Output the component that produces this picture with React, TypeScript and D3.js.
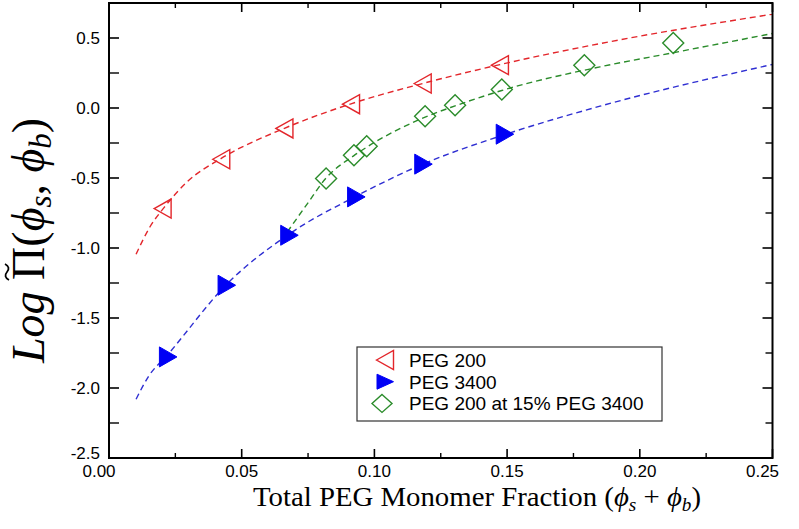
import React from 'react';
import * as d3 from 'd3';

// ---- axis ticks ----
const xTicks = [0, 0.05, 0.1, 0.15, 0.2, 0.25];
const xTickLabels = ['0.00', '0.05', '0.10', '0.15', '0.20', '0.25'];
const xMinorTicks = [0.025, 0.075, 0.125, 0.175, 0.225];
const yTicks = [-2.5, -2, -1.5, -1, -0.5, 0, 0.5];
const yTickLabels = ['-2.5', '-2.0', '-1.5', '-1.0', '-0.5', '0.0', '0.5'];
const yMinorTicks = [-2.25, -1.75, -1.25, -0.75, -0.25, 0.25];

// ---- measured points ----
const peg200X = [0.0202, 0.0423, 0.0661, 0.0912, 0.1182, 0.1473];
const peg200Y = [-0.718, -0.366, -0.146, 0.027, 0.175, 0.306];
const peg3400X = [0.0222, 0.0443, 0.0679, 0.0931, 0.1184, 0.1491];
const peg3400Y = [-1.778, -1.266, -0.909, -0.635, -0.401, -0.187];
const mixX = [0.0818, 0.0923, 0.0971, 0.1191, 0.1304, 0.148, 0.1791, 0.2126];
const mixY = [-0.504, -0.337, -0.273, -0.059, 0.02, 0.132, 0.306, 0.465];

// ---- fitted dashed curves ----
const fit200X = [0.0102, 0.0154, 0.0208, 0.0293, 0.0423, 0.0661, 0.0912, 0.1182, 0.1473, 0.185, 0.25];
const fit200Y = [-1.045, -0.85, -0.71, -0.53, -0.36, -0.145, 0.03, 0.175, 0.31, 0.46, 0.67];
const fit3400X = [0.0102, 0.0148, 0.0222, 0.0443, 0.0679, 0.0931, 0.1184, 0.1491, 0.185, 0.25];
const fit3400Y = [-2.08, -1.92, -1.76, -1.26, -0.9, -0.63, -0.4, -0.19, 0.013, 0.311];
const fitMixX = [0.0672, 0.0745, 0.0818, 0.0923, 0.0971, 0.1191, 0.1304, 0.148, 0.185, 0.2126, 0.25];
const fitMixY = [-0.885, -0.69, -0.5, -0.34, -0.28, -0.065, 0.015, 0.125, 0.294, 0.395, 0.532];

const legendLabels = ['PEG 200', 'PEG 3400', 'PEG 200 at 15% PEG 3400'];

const RED = '#e3262b';
const BLUE_M = '#0000f5';
const BLUE_L = '#2f2fd2';
const GREEN = '#2b8c2b';

const x = d3.scaleLinear().domain([0, 0.25]).range([109, 772.5]);
const y = d3.scaleLinear().domain([-2.5, 0.75]).range([458, 3]);

const line = d3
  .line<[number, number]>()
  .x((d) => x(d[0]))
  .y((d) => y(d[1]))
  .curve(d3.curveMonotoneX);

const zip = (a: number[], b: number[]) => a.map((v, i) => [v, b[i]] as [number, number]);

const triLeft = 'M-8.5,0L8.5,-9.5L8.5,9.5Z';
const triRight = 'M9,0L-8.5,-10L-8.5,10Z';
const diamond = 'M0,-10.5L10.5,0L0,10.5L-10.5,0Z';

export default function App() {
  const L = 109, R = 772.5, T = 3, B = 458;
  const sansFont = "'Liberation Sans', Arial, sans-serif";
  const serifFont = "'Liberation Serif', 'DejaVu Serif', serif";
  return (
    <svg
      width={799}
      height={529}
      style={{ position: 'fixed', left: 0, top: 0, background: '#fff' }}
    >
      <rect x={0} y={0} width={799} height={529} fill="#fff" />
      {/* curves */}
      <path d={line(zip(fit200X, fit200Y)) || ''} fill="none" stroke={RED} strokeWidth={1.4} strokeDasharray="6,4" />
      <path d={line(zip(fit3400X, fit3400Y)) || ''} fill="none" stroke={BLUE_L} strokeWidth={1.4} strokeDasharray="6,4" />
      <path d={line(zip(fitMixX, fitMixY)) || ''} fill="none" stroke={GREEN} strokeWidth={1.4} strokeDasharray="6,4" />

      {/* markers */}
      {peg200X.map((v, i) => (
        <path key={'r' + i} d={triLeft} transform={`translate(${x(v)},${y(peg200Y[i])})`} fill="none" stroke={RED} strokeWidth={1.4} />
      ))}
      {peg3400X.map((v, i) => (
        <path key={'b' + i} d={triRight} transform={`translate(${x(v)},${y(peg3400Y[i])})`} fill={BLUE_M} stroke={BLUE_M} strokeWidth={1} />
      ))}
      {mixX.map((v, i) => (
        <path key={'g' + i} d={diamond} transform={`translate(${x(v)},${y(mixY[i])})`} fill="none" stroke={GREEN} strokeWidth={1.4} />
      ))}

      {/* frame */}
      <rect x={L} y={T} width={R - L} height={B - T} fill="none" stroke="#000" strokeWidth={2} />

      {/* x ticks */}
      {xTicks.map((t) => (
        <g key={'xt' + t}>
          <line x1={x(t)} x2={x(t)} y1={B} y2={B - 9} stroke="#000" strokeWidth={1.6} />
          <line x1={x(t)} x2={x(t)} y1={T} y2={T + 9} stroke="#000" strokeWidth={1.6} />
        </g>
      ))}
      {xMinorTicks.map((t) => (
        <g key={'xm' + t}>
          <line x1={x(t)} x2={x(t)} y1={B} y2={B - 5} stroke="#000" strokeWidth={1.4} />
          <line x1={x(t)} x2={x(t)} y1={T} y2={T + 5} stroke="#000" strokeWidth={1.4} />
        </g>
      ))}
      {xTicks.map((t, i) => (
        <text
          key={'xl' + t}
          x={x(t) + (i === 0 || i === xTicks.length - 1 ? -10 : 0)}
          y={477}
          textAnchor="middle"
          fontFamily={sansFont}
          fontSize={17}
          fill="#000"
        >
          {xTickLabels[i]}
        </text>
      ))}

      {/* y ticks */}
      {yTicks.map((t) => (
        <g key={'yt' + t}>
          <line x1={L} x2={L + 10} y1={y(t)} y2={y(t)} stroke="#000" strokeWidth={1.6} />
          <line x1={R} x2={R - 10} y1={y(t)} y2={y(t)} stroke="#000" strokeWidth={1.6} />
        </g>
      ))}
      {yMinorTicks.map((t) => (
        <g key={'ym' + t}>
          <line x1={L} x2={L + 10} y1={y(t)} y2={y(t)} stroke="#000" strokeWidth={1.4} />
          <line x1={R} x2={R - 7} y1={y(t)} y2={y(t)} stroke="#000" strokeWidth={1.4} />
        </g>
      ))}
      {yTicks.map((t, i) => (
        <text
          key={'yl' + t}
          x={100}
          y={y(t) + 6 + (i === 0 ? -5 : 0)}
          textAnchor="end"
          fontFamily={sansFont}
          fontSize={17}
          fill="#000"
        >
          {yTickLabels[i]}
        </text>
      ))}

      {/* x title */}
      <text
        x={253}
        y={506}
        fontFamily={serifFont}
        fontSize={27}
        fill="#000"
        textLength={448}
        lengthAdjust="spacingAndGlyphs"
      >
        Total PEG Monomer Fraction (<tspan fontStyle="italic">ϕ</tspan>
        <tspan fontStyle="italic" fontSize={18} dy={5}>s</tspan>
        <tspan dy={-5}> + </tspan>
        <tspan fontStyle="italic">ϕ</tspan>
        <tspan fontStyle="italic" fontSize={18} dy={5}>b</tspan>
        <tspan dy={-5}>)</tspan>
      </text>

      {/* y title */}
      <g transform="translate(44,363) rotate(-90)">
        <text x={0} y={0} fontFamily={serifFont} fontSize={46} fill="#000">
          <tspan fontStyle="italic">Log</tspan>
          <tspan> Π(</tspan>
          <tspan fontStyle="italic">ϕ</tspan>
          <tspan fontStyle="italic" fontSize={31} dy={7}>s</tspan>
          <tspan dy={-7}>, </tspan>
          <tspan fontStyle="italic">ϕ</tspan>
          <tspan fontStyle="italic" fontSize={31} dy={7}>b</tspan>
          <tspan dy={-7}>)</tspan>
        </text>
        <path
          d="M83,-35 C85,-39 88,-39.5 91,-37 C94,-34.5 97,-35 99,-39"
          fill="none"
          stroke="#000"
          strokeWidth={1.8}
        />
      </g>

      {/* legend */}
      <rect x={357} y={347} width={305} height={74} fill="#fff" stroke="#333" strokeWidth={1.2} />
      {legendLabels.map((lab, i) => {
        const cy = 360 + i * 21.7;
        return (
          <g key={'lg' + i}>
            {i === 0 && <path d={triLeft} transform={`translate(385,${cy})`} fill="none" stroke={RED} strokeWidth={1.4} />}
            {i === 1 && <path d={'M8.5,0L-8,-7.5L-8,7.5Z'} transform={`translate(385,${cy})`} fill={BLUE_M} stroke={BLUE_M} />}
            {i === 2 && <path d={'M0,-9L10,0L0,9L-10,0Z'} transform={`translate(382,${cy})`} fill="none" stroke={GREEN} strokeWidth={1.4} />}
            <text x={409} y={cy + 7} fontFamily={sansFont} fontSize={19} fill="#000">
              {lab}
            </text>
          </g>
        );
      })}
    </svg>
  );
}
